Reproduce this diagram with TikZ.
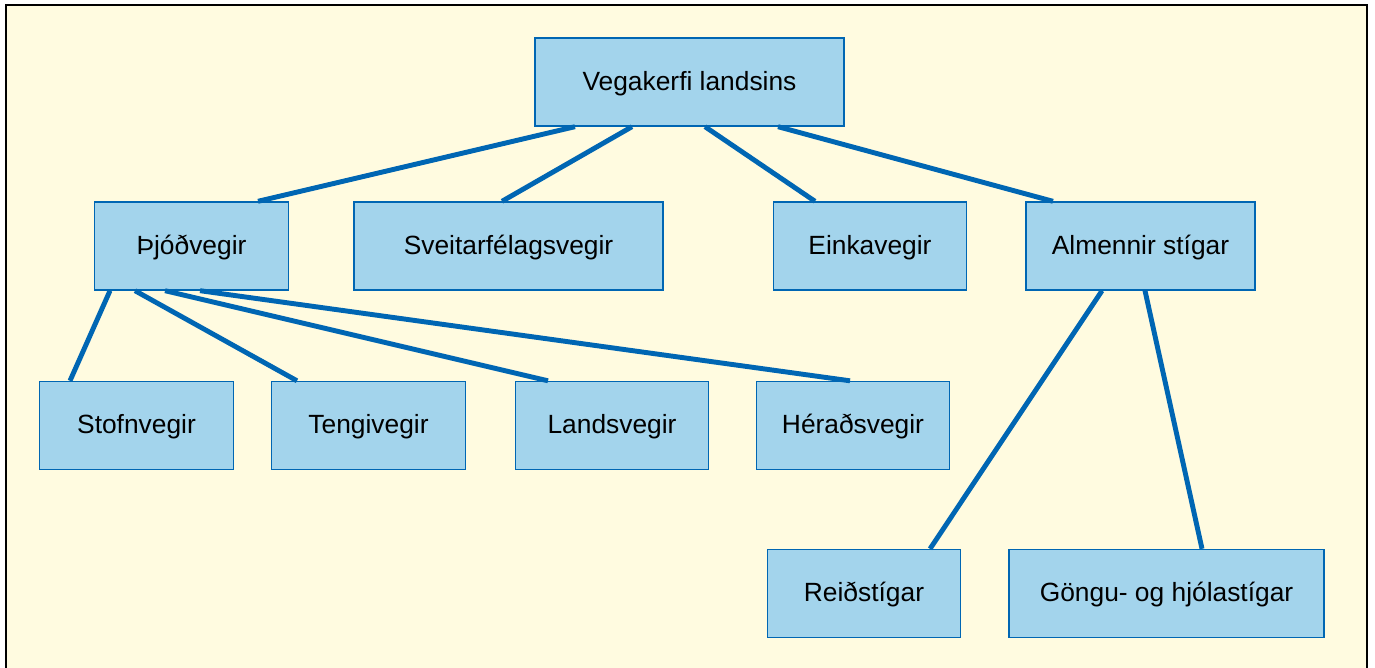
\documentclass[tikz,border=0pt]{standalone}
\usepackage{fontspec}
\setmainfont{Liberation Sans}
\usetikzlibrary{positioning, calc}
\definecolor{roadblue}{RGB}{0,102,179}
\definecolor{boxfill}{RGB}{163,212,236}
\definecolor{paper}{RGB}{255,251,224}

\begin{document}
\begin{tikzpicture}[x=0.02cm, y=-0.02cm,
    roadbox/.style={draw=roadblue, line width=0.8pt, fill=boxfill,
        minimum width=3.87cm, minimum height=1.76cm, inner sep=0pt,
        text height=0.95em, text depth=0pt,
        font=\fontsize{15}{18}\selectfont},
    link/.style={roadblue, line width=2.8pt}]
    % Frame
    \useasboundingbox (0,0) rectangle (1375,668);
    \fill[paper] (6,5) rectangle (1367,668);
    \draw[line width=1pt] (6,668) -- (6,5) -- (1367,5) -- (1367,668);

    % Top
    \node[roadbox, minimum width=6.18cm] (top) at (689.5,82) {Vegakerfi landsins};

    % Second row
    \node[roadbox] (pjod) at (191.5,246) {Þjóðvegir};
    \node[roadbox, minimum width=6.18cm] (sveit) at (508.5,246) {Sveitarfélagsvegir};
    \node[roadbox] (einka) at (870,246) {Einkavegir};
    \node[roadbox, minimum width=4.58cm] (almenn) at (1140.5,246) {Almennir stígar};

    % Third row
    \node[roadbox] (stofn) at (136.5,425.5) {Stofnvegir};
    \node[roadbox] (tengi) at (368.5,425.5) {Tengivegir};
    \node[roadbox] (lands) at (612,425.5) {Landsvegir};
    \node[roadbox] (herad) at (853,425.5) {Héraðsvegir};

    % Paths
    \node[roadbox] (reid) at (864,593.5) {Reiðstígar};
    \node[roadbox, minimum width=6.3cm] (gongu) at (1166.5,593.5) {Göngu- og hjólastígar};

    % Links from top
    \draw[link] ($(top.south)+(-114.5,0)$) -- ($(pjod.north)+(66.5,0)$);
    \draw[link] ($(top.south)+(-57.5,0)$) -- ($(sveit.north)+(-6.5,0)$);
    \draw[link] ($(top.south)+(15.5,0)$) -- ($(einka.north)+(-55,0)$);
    \draw[link] ($(top.south)+(88.5,0)$) -- ($(almenn.north)+(-87.5,0)$);

    % Links from Þjóðvegir
    \draw[link] ($(pjod.south)+(-81.5,0)$) -- ($(stofn.north)+(-66.5,0)$);
    \draw[link] ($(pjod.south)+(-56.5,0)$) -- ($(tengi.north)+(-71.5,0)$);
    \draw[link] ($(pjod.south)+(-26.5,0)$) -- ($(lands.north)+(-64,0)$);
    \draw[link] ($(pjod.south)+(8.5,0)$) -- ($(herad.north)+(-3,0)$);

    % Links from Almennir stígar
    \draw[link] ($(almenn.south)+(-38.5,0)$) -- ($(reid.north)+(66,0)$);
    \draw[link] ($(almenn.south)+(4.5,0)$) -- ($(gongu.north)+(35.5,0)$);
\end{tikzpicture}
\end{document}
